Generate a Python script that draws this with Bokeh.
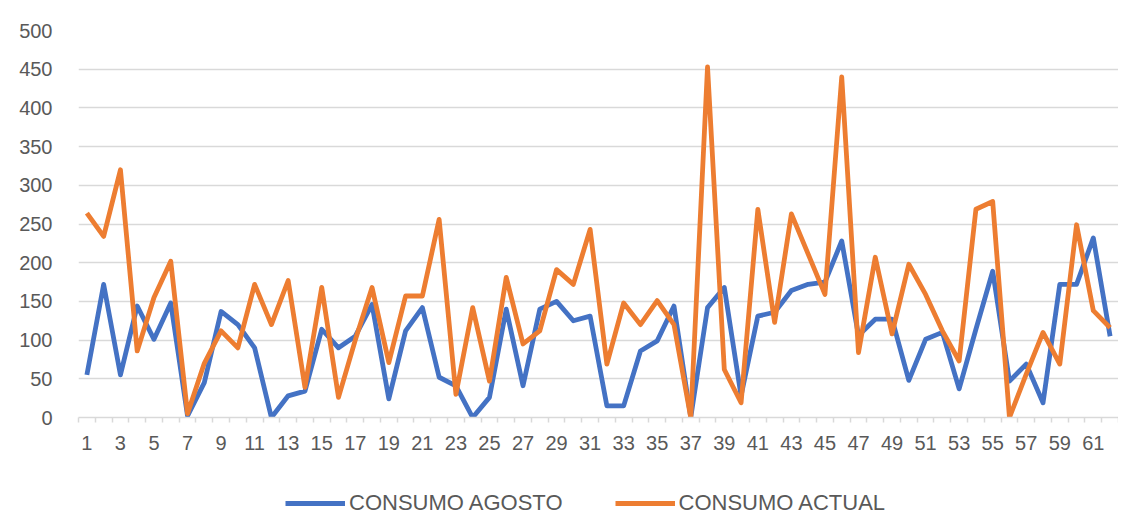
from bokeh.plotting import figure
from bokeh.layouts import column
from bokeh.models import FixedTicker, Legend, LegendItem, ColumnDataSource, Range1d
from bokeh.embed import file_html
from bokeh.resources import INLINE

days = list(range(1, 63))
consumo_agosto = [55, 172, 55, 144, 101, 148, 2, 45, 137, 120,
                  90, 0, 28, 34, 114, 90, 105, 146, 24, 112,
                  142, 52, 41, 0, 26, 140, 41, 140, 150, 125,
                  131, 15, 15, 86, 99, 144, 0, 142, 168, 28,
                  131, 136, 164, 172, 175, 228, 106, 127, 127, 48,
                  101, 110, 37, 114, 189, 47, 69, 19, 172, 172,
                  232, 105]
consumo_actual = [264, 234, 320, 86, 155, 202, 5, 70, 112, 90,
                  172, 120, 177, 39, 168, 26, 100, 168, 71, 157,
                  157, 256, 30, 142, 47, 181, 95, 112, 191, 172,
                  243, 69, 148, 120, 151, 120, 0, 453, 62, 19,
                  269, 123, 263, 211, 159, 440, 84, 207, 108, 198,
                  159, 112, 73, 269, 279, 0, 56, 110, 69, 249,
                  138, 116]
series_names = ["CONSUMO AGOSTO", "CONSUMO ACTUAL"]
series_colors = ["#4472C4", "#ED7D31"]
x_labels = [str(d) for d in days if d % 2 == 1]
y_ticks = list(range(0, 501, 50))

src = ColumnDataSource(dict(x=days, a=consumo_agosto, b=consumo_actual))

FONT = "Liberation Sans"
GRAY_TXT = "#595959"
GRID = "#D9D9D9"
LW = 4.8

p = figure(width=1118, height=475, output_backend="svg",
           toolbar_location=None, x_range=(0.5, 62.5), y_range=(0, 500),
           min_border_left=78, min_border_right=0, min_border_top=30,
           min_border_bottom=58)
p.outline_line_color = None
p.background_fill_color = "white"

p.line("x", "a", source=src, line_color=series_colors[0], line_width=LW,
       line_join="round")
p.line("x", "b", source=src, line_color=series_colors[1], line_width=LW,
       line_join="round")

# y axis
p.yaxis.ticker = FixedTicker(ticks=y_ticks)
p.yaxis.axis_line_color = None
p.yaxis.major_tick_line_color = None
p.yaxis.minor_tick_line_color = None
p.yaxis.major_tick_in = 0
p.yaxis.major_tick_out = 0
p.yaxis.major_label_standoff = 26
p.yaxis.major_label_text_font = FONT
p.yaxis.major_label_text_font_size = "20px"
p.yaxis.major_label_text_color = GRAY_TXT

# x axis
odd = [d for d in days if d % 2 == 1]
p.xaxis.ticker = FixedTicker(ticks=odd, minor_ticks=[d + 0.5 for d in range(0, 63)])
p.xaxis.major_label_overrides = {d: lab for d, lab in zip(odd, x_labels)}
p.xaxis.axis_line_color = GRID
p.xaxis.axis_line_width = 1.5
p.xaxis.major_tick_line_color = None
p.xaxis.major_tick_in = 0
p.xaxis.major_tick_out = 0
p.xaxis.minor_tick_line_color = GRID
p.xaxis.minor_tick_line_width = 1.5
p.xaxis.minor_tick_in = 0
p.xaxis.minor_tick_out = 5
p.xaxis.major_label_standoff = 13
p.xaxis.major_label_text_font = FONT
p.xaxis.major_label_text_font_size = "20px"
p.xaxis.major_label_text_color = GRAY_TXT

p.xgrid.grid_line_color = None
p.ygrid.ticker = FixedTicker(ticks=y_ticks)
p.ygrid.grid_line_color = GRID
p.ygrid.grid_line_width = 1.5

# legend strip (separate small figure below the chart)
lg = figure(width=1118, height=41, output_backend="svg", toolbar_location=None,
            x_axis_type=None, y_axis_type=None,
            x_range=Range1d(-100, -99), y_range=Range1d(0, 1),
            min_border_left=0, min_border_right=0, min_border_top=0,
            min_border_bottom=0)
lg.outline_line_color = None
la = lg.line("x", "a", source=src, line_color=series_colors[0], line_width=LW)
lb = lg.line("x", "b", source=src, line_color=series_colors[1], line_width=LW)

legend = Legend(items=[LegendItem(label=series_names[0], renderers=[la]),
                       LegendItem(label=series_names[1], renderers=[lb])],
                orientation="horizontal", location=(207, 0))
legend.glyph_width = 60
legend.glyph_height = 16
legend.label_height = 16
legend.label_standoff = 4
legend.spacing = 52
legend.padding = 0
legend.margin = 0
legend.border_line_color = None
legend.background_fill_alpha = 0
legend.label_text_font = FONT
legend.label_text_font_size = "22px"
legend.label_text_color = GRAY_TXT
lg.add_layout(legend, "center")

layout = column(p, lg, spacing=0)
open("out.html", "w").write(file_html(layout, INLINE))
